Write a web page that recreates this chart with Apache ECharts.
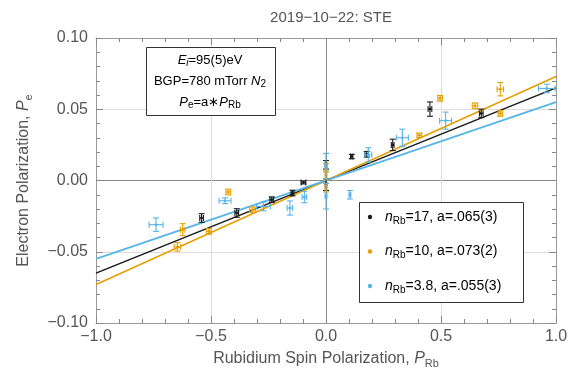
<!DOCTYPE html>
<html>
<head>
<meta charset="utf-8">
<script src="https://cdn.jsdelivr.net/npm/echarts@6/dist/echarts.min.js"></script>
<style>
  html, body { margin: 0; padding: 0; background: #fff; }
  #chart { width: 571px; height: 388px; }
</style>
</head>
<body>
<div id="chart"></div>
<script>
// Measurements: [P_Rb, P_e, error in P_Rb, error in P_e]
const pointsN17 = [
  [0.112, 0.0168, 0.005, 0.0015],
  [0.177, 0.0184, 0.008, 0.002],
  [0.290, 0.0250, 0.006, 0.004],
  [0.452, 0.0501, 0.008, 0.005],
  [0.675, 0.0471, 0.008, 0.003],
  [0.000, 0.0110, 0.003, 0.003],
  [0.000, -0.0030, 0.003, 0.004],
  [-0.098, -0.0014, 0.010, 0.001],
  [-0.146, -0.0088, 0.006, 0.002],
  [-0.236, -0.0135, 0.008, 0.002],
  [-0.388, -0.0228, 0.008, 0.003],
  [-0.541, -0.0263, 0.008, 0.003]
];
const pointsN10 = [
  [0.406, 0.0317, 0.010, 0.0015],
  [0.496, 0.0577, 0.010, 0.002],
  [0.648, 0.0524, 0.012, 0.002],
  [0.758, 0.0641, 0.014, 0.0047],
  [0.758, 0.0471, 0.010, 0.002],
  [0.000, 0.0090, 0.004, 0.003],
  [0.000, 0.0035, 0.004, 0.003],
  [0.000, -0.0050, 0.004, 0.003],
  [-0.320, -0.0205, 0.012, 0.002],
  [-0.425, -0.0081, 0.010, 0.002],
  [-0.509, -0.0357, 0.010, 0.002],
  [-0.623, -0.0345, 0.010, 0.0042],
  [-0.646, -0.0466, 0.014, 0.003]
];
const pointsN38 = [
  [0.184, 0.0180, 0.015, 0.005],
  [0.332, 0.0300, 0.026, 0.006],
  [0.520, 0.0420, 0.026, 0.006],
  [0.960, 0.0646, 0.036, 0.003],
  [0.104, -0.0100, 0.004, 0.003],
  [0.000, 0.0100, 0.004, 0.009],
  [0.000, -0.0110, 0.004, 0.009],
  [-0.094, -0.0116, 0.010, 0.004],
  [-0.157, -0.0193, 0.012, 0.005],
  [-0.272, -0.0182, 0.030, 0.003],
  [-0.439, -0.0142, 0.026, 0.002],
  [-0.739, -0.0310, 0.030, 0.0047]
];

// Fit results: P_e = a * P_Rb
const nRbValues = ['17', '10', '3.8'];
const slopes = [0.065, 0.073, 0.055];
const slopeUnc = ['3', '2', '3'];
const seriesColors = ['#1a1a1a', '#e69f00', '#56b4e9'];
const allPoints = [pointsN17, pointsN10, pointsN38];

const xRange = [-1, 1];
const yRange = [-0.1, 0.1];

const FONT = '"Liberation Sans", Arial, sans-serif';
const TEXT = '#555';

function fmt(v, digits) {
  if (Math.abs(v) < 1e-9) return (0).toFixed(digits);
  return (v < 0 ? '\u2212' : '') + Math.abs(v).toFixed(digits);
}

// Error-bar glyph: horizontal and vertical bars with end caps, plus a small dot
function errorBars(color) {
  return function (params, api) {
    const x = api.value(0), y = api.value(1), dx = api.value(2), dy = api.value(3);
    const c = api.coord([x, y]);
    const l = api.coord([x - dx, y]);
    const r = api.coord([x + dx, y]);
    const t = api.coord([x, y + dy]);
    const b = api.coord([x, y - dy]);
    const cap = 3;
    const style = { stroke: color, lineWidth: 1.1, fill: null };
    const seg = (x1, y1, x2, y2) => ({ type: 'line', shape: { x1, y1, x2, y2 }, style });
    return {
      type: 'group',
      children: [
        seg(l[0], l[1], r[0], r[1]),
        seg(t[0], t[1], b[0], b[1]),
        seg(t[0] - cap, t[1], t[0] + cap, t[1]),
        seg(b[0] - cap, b[1], b[0] + cap, b[1]),
        seg(l[0], l[1] - cap, l[0], l[1] + cap),
        seg(r[0], r[1] - cap, r[0], r[1] + cap),
        { type: 'circle', shape: { cx: c[0], cy: c[1], r: 1.3 }, style: { fill: color } }
      ]
    };
  };
}

const series = [];
// fitted lines first so the measurements sit on top
slopes.forEach((a, i) => {
  series.push({
    type: 'line',
    data: xRange.map(x => [x, a * x]),
    symbol: 'none',
    lineStyle: { color: seriesColors[i], width: 1.6 },
    z: 2,
    silent: true
  });
});
allPoints.forEach((pts, i) => {
  series.push({
    type: 'custom',
    data: pts,
    renderItem: errorBars(seriesColors[i]),
    z: 3,
    silent: true
  });
});

const richBase = {
  t: { fontSize: 16, fontFamily: FONT, color: TEXT, lineHeight: 20 },
  i: { fontSize: 16, fontFamily: FONT, color: TEXT, fontStyle: 'italic', lineHeight: 20 },
  s: { fontSize: 11, fontFamily: FONT, color: TEXT, verticalAlign: 'bottom', lineHeight: 12 }
};

const majorTick = { show: true, inside: true, length: 7, lineStyle: { color: '#888' } };
const minorTick = { show: true, splitNumber: 5, length: 4, lineStyle: { color: '#888' } };
const frameLine = { show: true, onZero: false, lineStyle: { color: '#999', width: 1 } };

const option = {
  animation: false,
  backgroundColor: '#fff',
  title: {
    text: '2019\u221210\u221222: STE',
    left: 326, top: 5, textAlign: 'center',
    textStyle: { fontFamily: FONT, fontSize: 15, fontWeight: 'normal', color: TEXT }
  },
  grid: { left: 96, right: 15, top: 38, bottom: 65 },
  xAxis: [{
    type: 'value', min: xRange[0], max: xRange[1], interval: 0.5,
    position: 'bottom',
    axisLine: frameLine,
    axisTick: majorTick,
    minorTick: minorTick,
    splitLine: { show: true, lineStyle: { color: ['#ccc', '#ddd', '#888', '#ddd', '#ccc'], width: 1 } },
    axisLabel: { margin: 6, fontFamily: FONT, fontSize: 16, color: TEXT, formatter: v => fmt(v, 1) },
    name: '{t|Rubidium Spin Polarization, }{i|P}{s|Rb}',
    nameLocation: 'middle', nameGap: 26,
    nameTextStyle: { rich: richBase, verticalAlign: 'top' }
  }, {
    type: 'value', min: xRange[0], max: xRange[1], interval: 0.5,
    position: 'top',
    axisLine: frameLine,
    axisTick: majorTick,
    minorTick: minorTick,
    splitLine: { show: false },
    axisLabel: { show: false }
  }],
  yAxis: [{
    type: 'value', min: yRange[0], max: yRange[1], interval: 0.05,
    position: 'left',
    axisLine: frameLine,
    axisTick: majorTick,
    minorTick: minorTick,
    splitLine: { show: true, lineStyle: { color: ['#ccc', '#ddd', '#888', '#ddd', '#ccc'], width: 1 } },
    axisLabel: { margin: 8, fontFamily: FONT, fontSize: 16, color: TEXT, formatter: v => fmt(v, 2) },
    name: '{t|Electron Polarization, }{i|P}{s|e}',
    nameLocation: 'middle', nameGap: 62,
    nameTextStyle: { rich: richBase }
  }, {
    type: 'value', min: yRange[0], max: yRange[1], interval: 0.05,
    position: 'right',
    axisLine: frameLine,
    axisTick: majorTick,
    minorTick: minorTick,
    splitLine: { show: false },
    axisLabel: { show: false }
  }],
  series: series,
  graphic: []
};

// annotation box (top-left)
const richBox = {
  t: { fontSize: 13, fontFamily: FONT, color: '#222', lineHeight: 16 },
  i: { fontSize: 13, fontFamily: FONT, color: '#222', fontStyle: 'italic', lineHeight: 16 },
  s: { fontSize: 10, fontFamily: FONT, color: '#222', verticalAlign: 'bottom', lineHeight: 10 },
  si: { fontSize: 10, fontFamily: FONT, color: '#222', fontStyle: 'italic', verticalAlign: 'bottom', lineHeight: 10 }
};
const infoLines = [
  '{i|E}{si|i}{t|=95(5)eV}',
  '{t|BGP=780 mTorr }{i|N}{s|2}',
  '{i|P}{s|e}{t|=a\u2217}{i|P}{s|Rb}'
];
option.graphic.push({
  type: 'rect', left: 146, top: 47,
  shape: { width: 129, height: 68 },
  style: { fill: '#fff', stroke: '#333', lineWidth: 1 }, z: 10
});
infoLines.forEach((txt, k) => {
  option.graphic.push({
    type: 'text', x: 210, y: 60 + k * 21, z: 11,
    style: { text: txt, rich: richBox, align: 'center', verticalAlign: 'middle' }
  });
});

// legend box (bottom-right)
const richLeg = {
  t: { fontSize: 14, fontFamily: FONT, color: '#222', lineHeight: 18 },
  i: { fontSize: 14, fontFamily: FONT, color: '#222', fontStyle: 'italic', lineHeight: 18 },
  s: { fontSize: 10, fontFamily: FONT, color: '#222', verticalAlign: 'bottom', lineHeight: 11 }
};
option.graphic.push({
  type: 'rect', left: 359, top: 202,
  shape: { width: 164, height: 100 },
  style: { fill: '#fff', stroke: '#333', lineWidth: 1 }, z: 10
});
slopes.forEach((a, k) => {
  const y = 217 + k * 34.5;
  option.graphic.push({
    type: 'circle', z: 11,
    shape: { cx: 370, cy: y, r: 2.2 },
    style: { fill: seriesColors[k] }
  });
  const aTxt = a.toFixed(3).replace(/^0/, '');
  option.graphic.push({
    type: 'text', x: 385, y: y, z: 11,
    style: {
      text: '{i|n}{s|Rb}{t|=' + nRbValues[k] + ', a=' + aTxt + '(' + slopeUnc[k] + ')}',
      rich: richLeg, align: 'left', verticalAlign: 'middle'
    }
  });
});

// all data is drawn against the bottom/left axes
option.series.forEach(s => { s.xAxisIndex = 0; s.yAxisIndex = 0; });

const chart = echarts.init(document.getElementById('chart'), null, { renderer: 'canvas' });
chart.setOption(option);
</script>
</body>
</html>
